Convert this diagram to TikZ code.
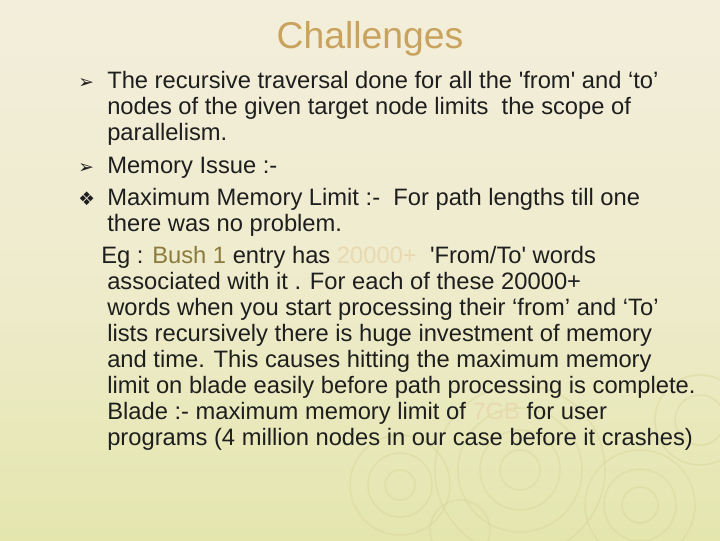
\documentclass[tikz,border=0pt]{standalone}
\usepackage{fontspec}
\setmainfont{Liberation Sans}
\newfontfamily\plainf{Liberation Sans}
\newfontfamily\djv{DejaVu Sans}
\newcommand{\sq}{{\plainf\char39}}
\definecolor{bgtop}{HTML}{F3EEDB}
\definecolor{bgbot}{HTML}{E4E6AE}
\definecolor{titlec}{HTML}{C9A35E}
\definecolor{txt}{HTML}{1E1E1E}
\definecolor{olive}{HTML}{8C7A3C}
\definecolor{pale}{HTML}{E8D9B0}
\definecolor{swirl}{HTML}{D7D69A}
\begin{document}
\begin{tikzpicture}[x=0.75pt,y=-0.75pt,
  ln/.style={anchor=base west,inner sep=0pt,font=\fontsize{17.8}{20}\selectfont,text=txt},
  bul/.style={anchor=base west,inner sep=0pt,font=\fontsize{14}{16}\selectfont,text=txt}]
\useasboundingbox (0,0) rectangle (720,540);
\shade[top color=bgtop,bottom color=bgbot,middle color=bgtop!70!bgbot] (0,0) rectangle (720,540);
\foreach \cx/\cy/\r in {520/470/20,520/470/40,520/470/62,520/470/85,400/485/15,400/485/32,400/485/50,640/505/18,640/505/36,640/505/55,700/420/25,700/420/45,460/530/30}
  \draw[swirl,line width=1.2pt,opacity=0.45] (\cx,\cy) circle (\r);
\node[anchor=base,inner sep=0pt,font=\fontsize{28}{31}\selectfont,text=titlec] (title) at (370,48) {Challenges};
\node[bul] (b1) at (78,88) {\djv ➢};
\node[bul] (b2) at (78,173) {\djv ➢};
\node[bul] (b3) at (78,205) {\djv ❖};
\node[ln] (l1) at (107,88) {The recursive traversal done for all the \sq from\sq{} and ‘to’};
\node[ln] (l2) at (107,114) {nodes of the given target node limits\ \ the scope of};
\node[ln] (l3) at (107,140) {parallelism.};
\node[ln] (l4) at (107,173) {Memory Issue :-};
\node[ln] (l5) at (107,205) {Maximum Memory Limit :-\ \ For path lengths till one};
\node[ln] (l6) at (107,231) {there was no problem.};
\node[ln] (l7) at (101,263) {Eg : \textcolor{olive}{Bush 1} entry has \textcolor{pale}{20000+}\ \ \sq From/To\sq{} words};
\node[ln] (l8) at (107,289) {associated with it . For each of these 20000+};
\node[ln] (l9) at (107,315) {words when you start processing their ‘from’ and ‘To’};
\node[ln] (l10) at (107,341) {lists recursively there is huge investment of memory};
\node[ln] (l11) at (107,367) {and time. This causes hitting the maximum memory};
\node[ln] (l12) at (107,393) {limit on blade easily before path processing is complete.};
\node[ln] (l13) at (107,419) {Blade :- maximum memory limit of \textcolor{pale}{7GB} for user};
\node[ln] (l14) at (107,445) {programs (4 million nodes in our case before it crashes)};
\end{tikzpicture}
\end{document}
